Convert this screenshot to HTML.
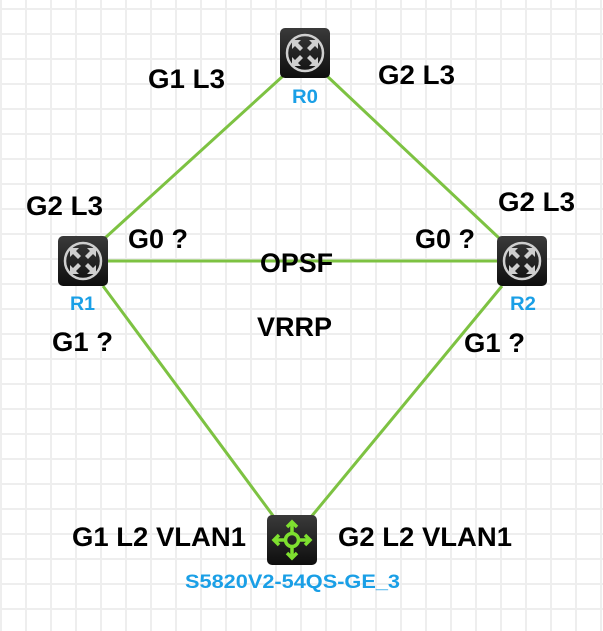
<!DOCTYPE html>
<html><head><meta charset="utf-8"><style>
html,body{margin:0;padding:0;background:#fff;}
svg{display:block;}
text{font-family:"Liberation Sans",Arial,sans-serif;font-weight:bold;}
.t{font-size:27px;fill:#000;}
.b{font-size:19px;fill:#1a9fe6;}
</style></head><body>
<svg width="603" height="631" viewBox="0 0 603 631" xmlns="http://www.w3.org/2000/svg">
<defs>
<pattern id="g" x="0" y="8" width="25" height="25" patternUnits="userSpaceOnUse">
<rect x="0" y="0" width="2" height="25" fill="#eeeeee"/>
<rect x="0" y="0" width="25" height="2" fill="#eeeeee"/>
</pattern>
<linearGradient id="dk" x1="0" y1="0" x2="0" y2="1">
<stop offset="0" stop-color="#3a3a3a"/><stop offset="1" stop-color="#0e0e0e"/>
</linearGradient>
<g id="rt">
<rect x="-25" y="-25" width="50" height="50" rx="5" fill="url(#dk)"/>
<circle r="18" fill="none" stroke="#cfcfcf" stroke-width="2.5"/>
<g fill="#cfcfcf">
<path d="M-13,-13 l9,0 l-3,3 l5,5 l-3,3 l-5,-5 l-3,3 z"/>
<path d="M13,-13 l-9,0 l3,3 l-5,5 l3,3 l5,-5 l3,3 z"/>
<path d="M-13,13 l9,0 l-3,-3 l5,-5 l-3,-3 l-5,5 l-3,-3 z"/>
<path d="M13,13 l-9,0 l3,-3 l-5,-5 l3,-3 l5,5 l3,-3 z"/>
</g>
</g>
</defs>
<rect width="603" height="631" fill="url(#g)"/>
<g stroke="#7dc242" stroke-width="3" fill="none">
<line x1="283" y1="76" x2="105" y2="238"/>
<line x1="327" y1="76" x2="499" y2="238"/>
<line x1="108" y1="261" x2="497" y2="261"/>
<line x1="103" y1="286" x2="274" y2="517"/>
<line x1="502" y1="286" x2="311" y2="517"/>
</g>
<use href="#rt" x="305" y="53"/>
<use href="#rt" x="83" y="261"/>
<use href="#rt" x="522" y="261"/>
<g transform="translate(292,540)">
<rect x="-25" y="-25" width="50" height="50" rx="5" fill="url(#dk)"/>
<g stroke="#7ee02f" stroke-width="3.5" fill="none">
<circle r="6.5"/>
<line x1="-18" y1="0" x2="-7" y2="0"/><line x1="7" y1="0" x2="18" y2="0"/>
<line x1="0" y1="-18" x2="0" y2="-7"/><line x1="0" y1="7" x2="0" y2="18"/>
<path d="M-13,-5 l-5,5 l5,5 M13,-5 l5,5 l-5,5 M-5,-13 l5,-5 l5,5 M-5,13 l5,5 l5,-5"/>
</g>
</g>
<g lengthAdjust="spacingAndGlyphs">
<text class="t" x="148" y="88" textLength="77" lengthAdjust="spacingAndGlyphs">G1 L3</text>
<text class="t" x="378" y="84" textLength="77" lengthAdjust="spacingAndGlyphs">G2 L3</text>
<text class="t" x="26" y="215" textLength="77" lengthAdjust="spacingAndGlyphs">G2 L3</text>
<text class="t" x="498" y="211" textLength="77" lengthAdjust="spacingAndGlyphs">G2 L3</text>
<text class="t" x="128" y="248" textLength="60" lengthAdjust="spacingAndGlyphs">G0 ?</text>
<text class="t" x="415" y="248" textLength="60" lengthAdjust="spacingAndGlyphs">G0 ?</text>
<text class="t" x="260" y="272" textLength="73" lengthAdjust="spacingAndGlyphs">OPSF</text>
<text class="t" x="257" y="336" textLength="75" lengthAdjust="spacingAndGlyphs">VRRP</text>
<text class="t" x="52" y="351" textLength="61" lengthAdjust="spacingAndGlyphs">G1 ?</text>
<text class="t" x="464" y="352" textLength="61" lengthAdjust="spacingAndGlyphs">G1 ?</text>
<text class="t" x="72" y="546" textLength="174" lengthAdjust="spacingAndGlyphs">G1 L2 VLAN1</text>
<text class="t" x="338" y="546" textLength="174" lengthAdjust="spacingAndGlyphs">G2 L2 VLAN1</text>
<text class="b" x="292" y="103" textLength="26" lengthAdjust="spacingAndGlyphs">R0</text>
<text class="b" x="70" y="310" textLength="25" lengthAdjust="spacingAndGlyphs">R1</text>
<text class="b" x="510" y="310" textLength="26" lengthAdjust="spacingAndGlyphs">R2</text>
<text class="b" x="185" y="588" textLength="215" lengthAdjust="spacingAndGlyphs">S5820V2-54QS-GE_3</text>
</g>
</svg>
</body></html>
